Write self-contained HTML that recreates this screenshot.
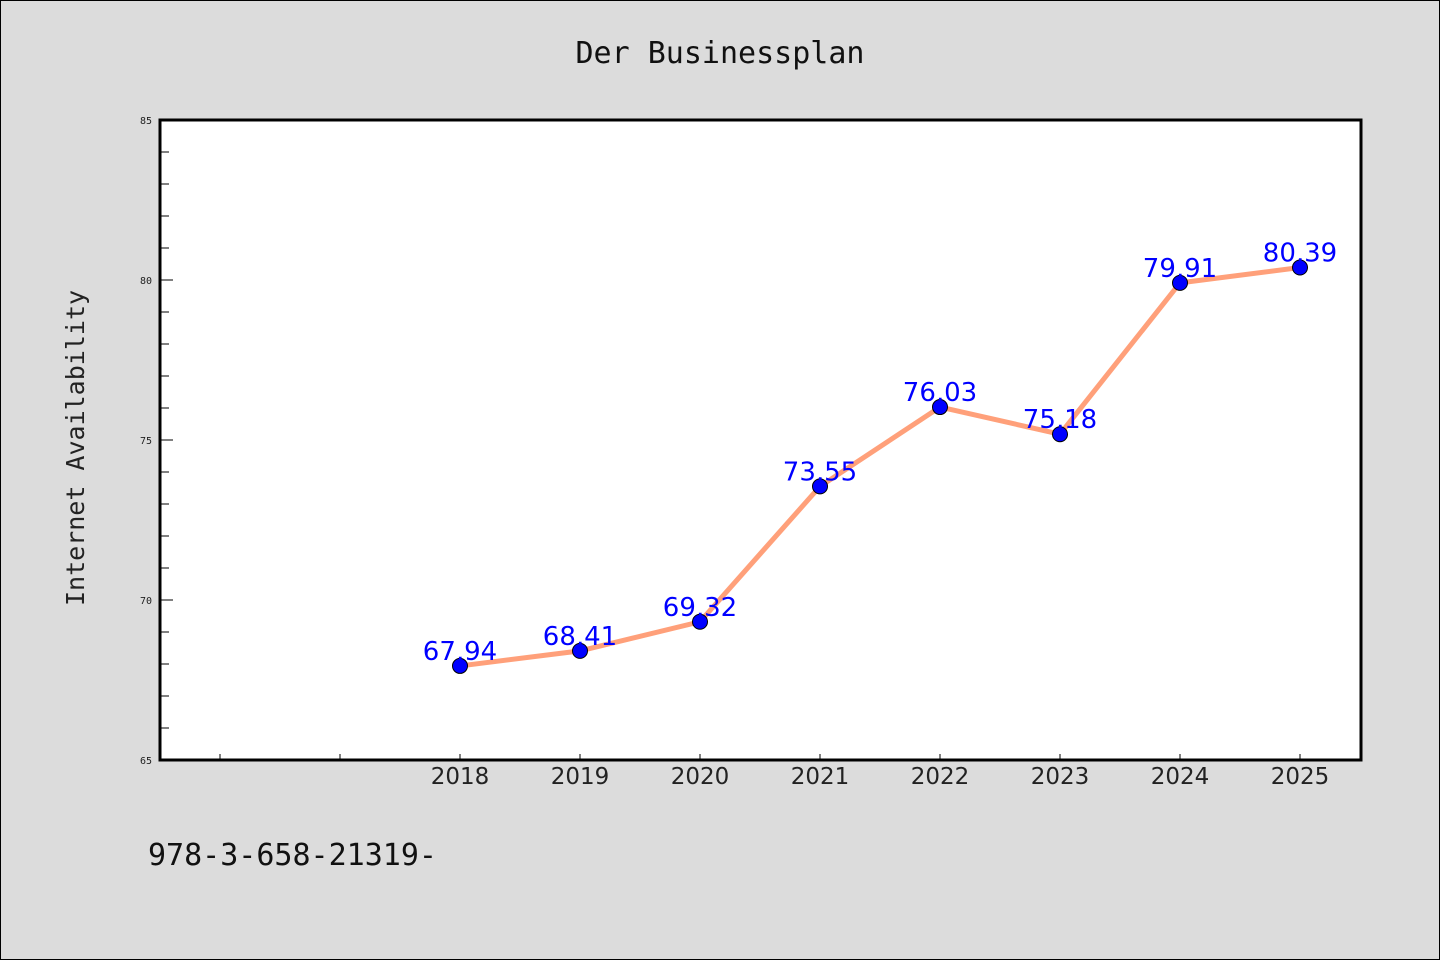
<!DOCTYPE html>
<html><head><meta charset="utf-8"><style>
body{margin:0;background:#dcdcdc;}
svg{display:block;font-family:"DejaVu Sans Mono","Liberation Mono",monospace;}
</style></head><body>
<svg id="chart" width="1440" height="960" viewBox="0 0 1440 960">
<rect x="0.5" y="0.5" width="1439" height="959" fill="#dcdcdc" stroke="#000" stroke-width="1"/>
<text x="720" y="63" text-anchor="middle" font-size="30" fill="#111">Der Businessplan</text>
<rect x="160" y="120" width="1201" height="640" fill="#fff"/>
<g id="axes"></g>
<g id="marks"></g>
<rect x="160" y="120" width="1201" height="640" fill="none" stroke="#000" stroke-width="3"/>
<text transform="translate(84,448) rotate(-90)" text-anchor="middle" font-size="25" fill="#222">Internet Availability</text>
<text x="148" y="865" font-size="30" fill="#111">978-3-658-21319-</text>
</svg>
<script>
const categories=["2018","2019","2020","2021","2022","2023","2024","2025"];
const values=[67.94,68.41,69.32,73.55,76.03,75.18,79.91,80.39];
const valueLabels=["67,94","68,41","69,32","73,55","76,03","75,18","79,91","80,39"];
const yTicks=[65,70,75,80,85];
const NS="http://www.w3.org/2000/svg";
const yMin=65,yMax=85,yTop=120,yBot=760;
function yS(v){return yBot-(v-yMin)/(yMax-yMin)*(yBot-yTop);}
function xS(i){return 460+120*i;}
function mk(t,a,p){const e=document.createElementNS(NS,t);for(const k in a)e.setAttribute(k,a[k]);p.appendChild(e);return e;}
const axes=document.getElementById('axes'),marks=document.getElementById('marks');
for(let v=yMin+1;v<yMax;v++){
  const major=v%5===0;
  const t=mk('line',{x1:160,x2:major?173:169,y1:yS(v),y2:yS(v),stroke:'#000','stroke-width':1},axes);
  
  
}
yTicks.forEach(v=>{
  const t=mk('text',{x:152,y:yS(v)+4,'text-anchor':'end','font-size':10,fill:'#222'},axes);
  t.textContent=v;
  
  
});
for(let i=-2;i<categories.length;i++){
  const t=mk('line',{x1:xS(i),x2:xS(i),y1:760,y2:754,stroke:'#000','stroke-width':1},axes);
  
  
}
categories.forEach((c,i)=>{
  const t=mk('text',{x:xS(i),y:784,'text-anchor':'middle','font-size':23,fill:'#222','font-family':'DejaVu Sans, Liberation Sans, sans-serif'},axes);
  t.textContent=c;
  
  
});
const line=mk('polyline',{points:values.map((v,i)=>xS(i)+','+yS(v)).join(' '),fill:'none',stroke:'#ffa07a','stroke-width':5},marks);


values.forEach((v,i)=>{
  const c=mk('circle',{cx:xS(i),cy:yS(v),r:7.5,fill:'#0000ff',stroke:'#000','stroke-width':1},marks);
  
  
  const t=mk('text',{x:xS(i),y:yS(v)-6,'text-anchor':'middle','font-size':26,fill:'#0000ff','font-family':'DejaVu Sans, Liberation Sans, sans-serif'},marks);
  t.textContent=valueLabels[i];
  
  
});
</script>
</body></html>
